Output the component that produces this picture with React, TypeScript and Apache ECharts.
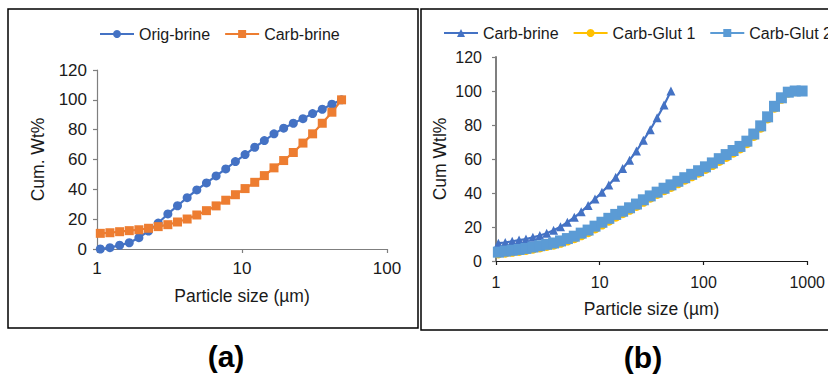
import React, { useEffect, useRef } from "react";
import * as echarts from "echarts";

// Particle size bins (µm)
const sizeBins = [
  1.054, 1.228, 1.432, 1.669, 1.945, 2.267, 2.643, 3.081, 3.591, 4.185,
  4.879, 5.686, 6.628, 7.725, 9.006, 10.5, 12.24, 14.26, 16.62, 19.38,
  22.59, 26.33, 30.69, 35.77, 41.69, 48.6, 56.63, 66.01, 76.94, 89.69,
  104.5, 121.8, 142.0, 165.5, 192.9, 224.9, 262.1, 305.5, 356.1, 415.1,
  483.8, 563.9, 657.4, 766.2, 893.2,
];

// Panel (a)
const origBrine = [
  0, 0.9, 2.5, 4.2, 7.6, 12, 17.4, 23.5, 29, 34.4, 39.6, 44.3, 49, 53.7,
  58.6, 63.3, 68.2, 72.7, 77.2, 81, 84.3, 87.4, 90.8, 93.7, 97.1, 100,
];
const carbBrine = [
  10.5, 10.9, 11.6, 12.3, 12.9, 13.9, 15, 16.3, 18.1, 20.1, 22.8, 25.7,
  28.9, 32.7, 36.4, 40.5, 44.7, 49.2, 54.4, 59.3, 64.7, 71, 77.2, 84.3,
  91.7, 100,
];

// Panel (b)
const carbGlut1 = [
  4.4, 4.9, 5.4, 5.9, 6.5, 7.2, 8.0, 8.8, 9.6, 10.7, 12.0, 13.4, 15.1, 16.9,
  19.1, 21.4, 23.7, 26.1, 28.1, 30.1, 32.4, 34.8, 37.2, 39.4, 41.6, 43.6,
  45.7, 47.8, 49.8, 51.9, 54.1, 56.4, 58.8, 61.2, 63.7, 66.2, 69.3, 73.6,
  78.4, 83.8, 90.2, 95.4, 99.0, 99.9, 100,
];
const carbGlut2 = [
  5.2, 5.8, 6.3, 6.8, 7.4, 8.2, 9.0, 9.8, 10.6, 11.8, 13.2, 14.6, 16.4, 18.2,
  20.5, 22.8, 25.1, 27.4, 29.3, 31.3, 33.5, 36.0, 38.3, 40.5, 42.8, 44.8,
  46.9, 49.0, 51.0, 53.1, 55.4, 57.7, 60.2, 62.6, 65.0, 67.4, 70.5, 74.7,
  79.5, 84.8, 91.0, 96.0, 99.3, 100, 100,
];

const FONT = '"Liberation Sans", Arial, Helvetica, sans-serif';
const TXT = "#1a1a1a";

const pairs = (ys: number[]) => ys.map((y, i) => [sizeBins[i], y]);

export default function App() {
  const ref = useRef<HTMLDivElement>(null);

  useEffect(() => {
    if (!ref.current) return;
    const chart = echarts.init(ref.current, undefined, { renderer: "svg" });

    const xAxisBase = (gridIndex: number, max: number, fs: number, color: string, margin: number, gap: number) => ({
      type: "log" as const,
      logBase: 10,
      gridIndex,
      min: 1,
      max,
      name: "Particle size (µm)",
      nameLocation: "middle" as const,
      nameGap: gap,
      nameTextStyle: { fontFamily: FONT, fontSize: 17.5, color: TXT },
      axisLine: { show: true, onZero: false, lineStyle: { color, width: 1.2 } },
      axisTick: { show: true, length: 4, lineStyle: { color, width: 1.2 } },
      minorTick: { show: false },
      splitLine: { show: false },
      axisLabel: {
        fontFamily: FONT,
        fontSize: fs,
        color: TXT,
        margin,
        formatter: (v: number) => String(Math.round(v)),
      },
    });

    const yAxisBase = (gridIndex: number, name: string, fs: number, color: string, width: number, margin: number, gap: number) => ({
      type: "value" as const,
      gridIndex,
      min: 0,
      max: 120,
      interval: 20,
      name,
      nameLocation: "middle" as const,
      nameGap: gap,
      nameTextStyle: { fontFamily: FONT, fontSize: 17.5, color: TXT },
      axisLine: { show: true, lineStyle: { color, width } },
      axisTick: { show: true, length: 4, lineStyle: { color, width: 1.2 } },
      splitLine: { show: false },
      axisLabel: { fontFamily: FONT, fontSize: fs, color: TXT, margin },
    });

    const legendText = { fontFamily: FONT, fontSize: 16, color: TXT, lineHeight: 18 };

    chart.setOption({
      animation: false,
      backgroundColor: "#ffffff",
      textStyle: { fontFamily: FONT },
      grid: [
        { left: 97, top: 70, width: 290, height: 179 },
        { left: 496, top: 57, width: 315, height: 204 },
      ],
      legend: [
        {
          data: ["Orig-brine", "Carb-brine"],
          left: 99,
          top: 25,
          padding: 0,
          itemWidth: 34,
          itemHeight: 10,
          itemGap: 14,
          textStyle: legendText,
        },
        {
          data: ["Carb-brine (b)", "Carb-Glut 1", "Carb-Glut 2"],
          formatter: (name: string) => name.replace(" (b)", ""),
          left: 443,
          top: 24,
          width: 600,
          padding: 0,
          itemWidth: 34,
          itemHeight: 10,
          itemGap: 14,
          textStyle: legendText,
        },
      ],
      xAxis: [
        xAxisBase(0, 100, 17, "#7f7f7f", 11, 38),
        xAxisBase(1, 1000, 16, "#1a1a1a", 13, 39),
      ],
      yAxis: [
        yAxisBase(0, "Cum. Wt%", 17, "#7f7f7f", 1.2, 10, 50),
        yAxisBase(1, "Cum Wtl%", 16, "#7f7f7f", 2, 14, 47),
      ],
      series: [
        {
          name: "Orig-brine",
          type: "line",
          xAxisIndex: 0,
          yAxisIndex: 0,
          data: pairs(origBrine),
          symbol: "circle",
          symbolSize: 9,
          lineStyle: { color: "#4472C4", width: 2.2 },
          itemStyle: { color: "#4472C4" },
        },
        {
          name: "Carb-brine",
          type: "line",
          xAxisIndex: 0,
          yAxisIndex: 0,
          data: pairs(carbBrine),
          symbol: "rect",
          symbolSize: 9,
          lineStyle: { color: "#ED7D31", width: 2.2 },
          itemStyle: { color: "#ED7D31" },
        },
        {
          name: "Carb-brine (b)",
          type: "line",
          xAxisIndex: 1,
          yAxisIndex: 1,
          data: pairs(carbBrine),
          symbol: "triangle",
          symbolSize: 9,
          lineStyle: { color: "#4472C4", width: 2.2 },
          itemStyle: { color: "#4472C4" },
        },
        {
          name: "Carb-Glut 1",
          type: "line",
          xAxisIndex: 1,
          yAxisIndex: 1,
          data: pairs(carbGlut1),
          symbol: "circle",
          symbolSize: 10,
          lineStyle: { color: "#FFC000", width: 2.2 },
          itemStyle: { color: "#FFC000" },
        },
        {
          name: "Carb-Glut 2",
          type: "line",
          xAxisIndex: 1,
          yAxisIndex: 1,
          data: pairs(carbGlut2),
          symbol: "rect",
          symbolSize: 11,
          lineStyle: { color: "#5B9BD5", width: 2.2 },
          itemStyle: { color: "#5B9BD5" },
        },
      ],
      graphic: [
        {
          type: "rect",
          shape: { x: 8, y: 9, width: 410, height: 319 },
          style: { fill: "none", stroke: "#000", lineWidth: 1.5 },
          silent: true,
        },
        {
          type: "rect",
          shape: { x: 421, y: 9, width: 500, height: 321 },
          style: { fill: "none", stroke: "#000", lineWidth: 1.5 },
          silent: true,
        },
        {
          type: "text",
          x: 226,
          y: 356,
          style: {
            text: "(a)",
            fontFamily: FONT,
            fontSize: 30,
            fontWeight: "bold",
            fill: "#000",
            align: "center",
            verticalAlign: "middle",
          },
        },
        {
          type: "text",
          x: 643,
          y: 357,
          style: {
            text: "(b)",
            fontFamily: FONT,
            fontSize: 30,
            fontWeight: "bold",
            fill: "#000",
            align: "center",
            verticalAlign: "middle",
          },
        },
      ],
    });

    return () => chart.dispose();
  }, []);

  return (
    <div
      ref={ref}
      style={{ position: "absolute", left: 0, top: 0, width: 828, height: 374 }}
    />
  );
}
